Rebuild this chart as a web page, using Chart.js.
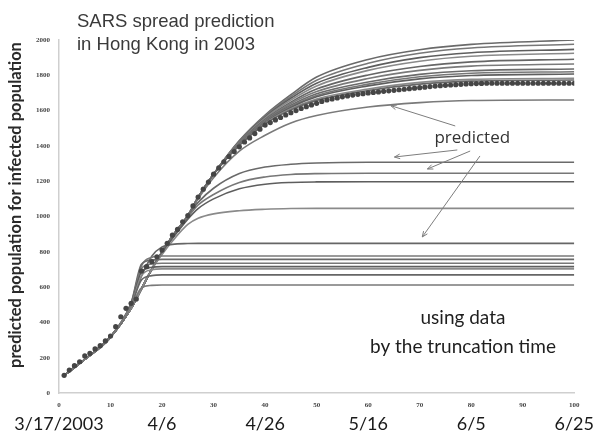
<!DOCTYPE html>
<html>
<head>
<meta charset="utf-8">
<script src="https://cdn.jsdelivr.net/npm/chart.js@4.4.1/dist/chart.umd.min.js"></script>
<style>
  html, body { margin: 0; padding: 0; background: #fff; }
  #wrap { width: 596px; height: 433px; }
</style>
</head>
<body>
<div id="wrap"><canvas id="sars-chart" width="596" height="433"></canvas></div>
<script>
// observed cumulative cases, one per day
const days = [1,2,3,4,5,6,7,8,9,10,11,12,13,14,15,16,17,18,19,20,
  21,22,23,24,25,26,27,28,29,30,31,32,33,34,35,36,37,38,39,40,
  41,42,43,44,45,46,47,48,49,50,51,52,53,54,55,56,57,58,59,60,
  61,62,63,64,65,66,67,68,69,70,71,72,73,74,75,76,77,78,79,80,
  81,82,83,84,85,86,87,88,89,90,91,92,93,94,95,96,97,98,99,100];
const observed = [100,130,155,177,210,225,250,268,295,323,376,432,480,508,532,691,716,744,772,810,
  848,895,927,970,1005,1060,1110,1155,1195,1240,1275,1310,1340,1368,1395,1422,1445,1470,1495,1518,
  1532,1547,1561,1575,1588,1600,1612,1622,1632,1641,1652,1660,1666,1672,1678,1683,1688,1692,1696,1700,
  1703,1706,1709,1712,1715,1718,1721,1724,1727,1730,1733,1736,1739,1741,1743,1745,1747,1749,1751,1752,
  1753,1754,1755,1755,1755,1755,1755,1755,1755,1755,1755,1755,1755,1755,1755,1755,1755,1755,1755,1755];

// predicted curves, sampled at these days
const predDays = [1,5,10,14,16,18,20,22,25,27,30,35,40,45,50,60,70,80,100];
const predicted = [
  [100,190,315,490,595,610,612,612,612,612,612,612,612,612,612,612,612,612,612],
  [100,190,315,495,640,665,669,669,669,669,669,669,669,669,669,669,669,669,669],
  [100,190,315,500,665,698,703,703,703,703,703,703,703,703,703,703,703,703,703],
  [100,190,315,505,685,712,716,716,716,716,716,716,716,716,716,716,716,716,716],
  [100,190,316,505,705,731,735,735,735,735,735,735,735,735,735,735,735,735,735],
  [100,190,318,510,730,753,757,757,757,757,757,757,757,757,757,757,757,757,757],
  [100,190,318,510,720,768,776,776,776,776,776,776,776,776,776,776,776,776,776],
  [100,190,318,505,660,775,828,842,847,848,848,848,848,848,848,848,848,848,848],
  [100,190,318,480,590,700,785,860,955,990,1015,1033,1041,1045,1046,1046,1046,1046,1046],
  [100,190,318,480,590,700,795,875,985,1045,1100,1157,1183,1193,1196,1197,1197,1197,1197],
  [100,190,318,480,590,700,798,878,995,1065,1125,1193,1224,1238,1243,1245,1245,1245,1245],
  [100,190,318,480,592,702,800,882,1005,1080,1160,1243,1280,1296,1303,1307,1307,1307,1307],
  [100,190,318,480,590,700,800,885,1005,1100,1220,1370,1460,1530,1572,1620,1645,1657,1660],
  [100,190,318,480,590,700,800,888,1005,1108,1240,1402,1524,1604,1658,1714,1750,1767,1773],
  [100,190,318,480,590,700,800,888,1005,1108,1240,1405,1528,1610,1666,1722,1760,1777,1783],
  [100,190,318,480,590,700,800,888,1005,1108,1240,1408,1532,1618,1678,1740,1780,1799,1807],
  [100,190,318,480,590,700,800,888,1005,1108,1240,1410,1536,1624,1686,1750,1792,1812,1820],
  [100,190,318,480,590,700,800,888,1005,1108,1240,1412,1540,1630,1695,1762,1805,1826,1836],
  [100,190,318,480,590,700,800,888,1005,1108,1240,1415,1545,1640,1708,1782,1828,1852,1864],
  [100,190,318,480,590,700,800,888,1004,1108,1240,1418,1550,1648,1722,1802,1850,1876,1891],
  [100,190,318,480,590,700,800,888,1004,1108,1240,1422,1558,1660,1740,1828,1880,1908,1925],
  [100,190,318,480,590,700,800,888,1003,1108,1240,1425,1563,1670,1755,1845,1900,1928,1947],
  [100,190,318,480,590,700,800,888,1002,1108,1240,1428,1570,1680,1772,1868,1925,1955,1976],
  [100,190,318,480,590,700,800,888,1000,1108,1240,1430,1575,1690,1790,1890,1945,1975,2000]
];
const lineGrays = ['#7a7a7a','#666','#8a8a8a','#5e5e5e','#777','#6a6a6a'];

const dateTicks = ['3/17/2003','4/6','4/26','5/16','6/5','6/25'];

// arrows from the "predicted" label, in data units: [fromDay, fromValue, toDay, toValue]
const arrows = [
  [76.9, 1513, 64.4, 1628],
  [77.3, 1377, 65.1, 1337],
  [79.8, 1371, 71.5, 1269],
  [81.7, 1343, 70.5, 884]
];

const annotate = {
  id: 'annotate',
  afterDraw(chart) {
    const ctx = chart.ctx;
    const xs = chart.scales.x, ys = chart.scales.y;
    ctx.save();

    // title
    ctx.fillStyle = '#3a3a3a';
    ctx.font = '18.5px "Liberation Sans", Arial, sans-serif';
    ctx.textAlign = 'left';
    ctx.textBaseline = 'middle';
    ctx.fillText('SARS spread prediction', 77, 22);
    ctx.fillText('in Hong Kong in 2003', 77, 45);

    // y axis title
    ctx.save();
    ctx.translate(16, 205);
    ctx.rotate(-Math.PI / 2);
    ctx.textAlign = 'center';
    ctx.fillStyle = '#2a2a2a';
    ctx.font = 'bold 16.5px Lato, sans-serif';
    ctx.fillText('predicted population for infected population', 0, 0);
    ctx.restore();

    // arrows
    ctx.strokeStyle = '#7d7d7d';
    ctx.lineWidth = 1;
    arrows.forEach(([x0, y0, x1, y1]) => {
      const ax = xs.getPixelForValue(x0), ay = ys.getPixelForValue(y0);
      const bx = xs.getPixelForValue(x1), by = ys.getPixelForValue(y1);
      const ang = Math.atan2(by - ay, bx - ax);
      ctx.beginPath();
      ctx.moveTo(ax, ay);
      ctx.lineTo(bx, by);
      ctx.moveTo(bx - 6 * Math.cos(ang - 0.4), by - 6 * Math.sin(ang - 0.4));
      ctx.lineTo(bx, by);
      ctx.lineTo(bx - 6 * Math.cos(ang + 0.4), by - 6 * Math.sin(ang + 0.4));
      ctx.stroke();
    });

    // labels
    ctx.textAlign = 'center';
    ctx.fillStyle = '#333';
    ctx.font = '17px "Open Sans", sans-serif';
    ctx.fillText('predicted', xs.getPixelForValue(80.2), ys.getPixelForValue(1445));
    ctx.fillStyle = '#1e1e1e';
    ctx.font = '19px Lato, sans-serif';
    ctx.fillText('using data', xs.getPixelForValue(78.4), ys.getPixelForValue(428));
    ctx.fillText('by the truncation time', xs.getPixelForValue(78.4), ys.getPixelForValue(261));
    ctx.restore();
  }
};

const datasets = [{
  label: 'observed',
  data: days.map((d, i) => ({ x: d, y: observed[i] })),
  showLine: false,
  pointRadius: 2.6,
  pointBackgroundColor: '#454545',
  pointBorderWidth: 0,
  order: 0
}];
predicted.forEach((vals, k) => {
  datasets.push({
    label: 'pred' + k,
    data: predDays.map((d, i) => ({ x: d, y: vals[i] })),
    borderColor: lineGrays[k % lineGrays.length],
    borderWidth: 1.6,
    pointRadius: 0,
    cubicInterpolationMode: 'monotone',
    fill: false,
    order: 1
  });
});

new Chart(document.getElementById('sars-chart'), {
  type: 'line',
  data: { datasets: datasets },
  plugins: [annotate],
  options: {
    responsive: false,
    animation: false,
    layout: { padding: { top: 40, right: 18, left: 0, bottom: 0 } },
    plugins: { legend: { display: false }, tooltip: { enabled: false } },
    scales: {
      x: {
        type: 'linear',
        min: 0, max: 100,
        grid: { display: false, drawTicks: false },
        border: { display: true, color: '#cfcfcf', width: 1.5 },
        ticks: {
          stepSize: 10, padding: 8, maxRotation: 0, autoSkip: false,
          color: '#444', font: { family: '"Liberation Serif", serif', size: 7, weight: 'bold' }
        },
        afterFit(scale) { scale.height = 18; }
      },
      x2: {
        type: 'linear',
        position: 'bottom',
        min: 0, max: 100,
        grid: { display: false, drawTicks: false },
        border: { display: false },
        ticks: {
          stepSize: 20, padding: 2, maxRotation: 0, autoSkip: false,
          color: '#1a1a1a', font: { family: 'Lato, sans-serif', size: 18 },
          callback: (v, i) => dateTicks[i]
        },
        afterFit(scale) { scale.height = 22; }
      },
      y: {
        min: 0, max: 2000,
        grid: { display: false, drawTicks: false },
        border: { display: true, color: '#cfcfcf', width: 1.5 },
        ticks: {
          stepSize: 200, padding: 9,
          color: '#444', font: { family: '"Liberation Serif", serif', size: 7, weight: 'bold' },
          callback: (v) => String(v)
        },
        afterFit(scale) { scale.width = 59; }
      }
    }
  }
});
</script>
</body>
</html>
